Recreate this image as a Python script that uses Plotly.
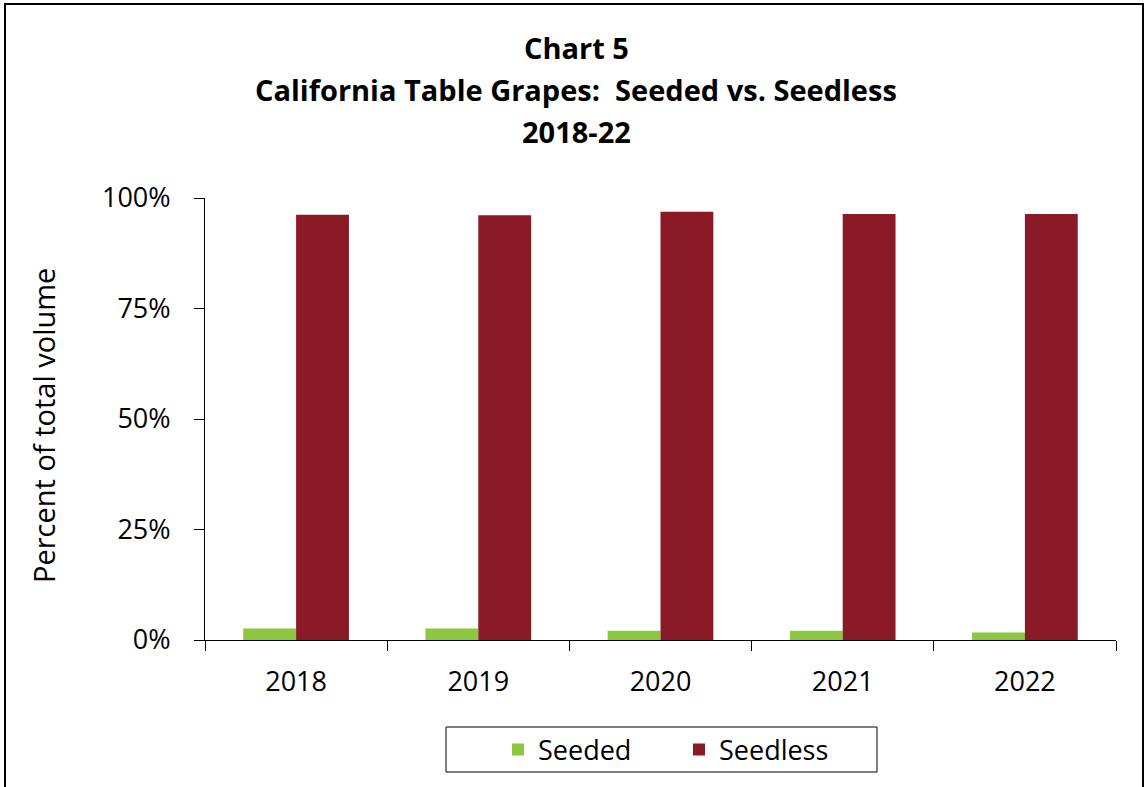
import plotly.graph_objects as go

years = ["2018", "2019", "2020", "2021", "2022"]
seeded = [2.6, 2.6, 2.1, 2.1, 1.7]
seedless = [96.2, 96.1, 96.9, 96.4, 96.4]
y_ticks = [0, 25, 50, 75, 100]
y_tick_labels = ["0%", "25%", "50%", "75%", "100%"]
title_lines = ["Chart 5", "California Table Grapes:\u00a0 Seeded vs. Seedless", "2018-22"]

W, H = 1147, 787
L, R, T, B = 205, 31, 198, 147
pw, ph = W - L - R, H - T - B

def px(x):
    return (x - L) / pw

def py(y):
    return (H - B - y) / ph

FONT = "'Open Sans', sans-serif"

fig = go.Figure()
fig.add_trace(go.Bar(x=years, y=seeded, name="Seeded", marker=dict(color="#8DC63F", line=dict(width=0))))
fig.add_trace(go.Bar(x=years, y=seedless, name="Seedless", marker=dict(color="#8B1A27", line=dict(width=0))))

annotations = []
for text, yc in zip(title_lines, [47, 90, 131]):
    annotations.append(dict(text="<b>" + text + "</b>", xref="paper", yref="paper",
                            x=px(576), y=py(yc), xanchor="center", yanchor="middle",
                            showarrow=False, font=dict(size=29, color="black", family=FONT)))
annotations.append(dict(text="Percent of total volume", xref="paper", yref="paper",
                        x=px(43), y=py(426), xanchor="center", yanchor="middle", textangle=-90,
                        showarrow=False, font=dict(size=29, color="black", family=FONT)))

fig.update_layout(
    width=W, height=H,
    margin=dict(l=L, r=R, t=T, b=B, autoexpand=False),
    paper_bgcolor="white", plot_bgcolor="white",
    font=dict(family=FONT, size=27, color="black"),
    barmode="group", bargap=0.42, bargroupgap=0,
    showlegend=True,
    legend=dict(orientation="h", x=px(498), y=py(750), xanchor="left", yanchor="middle",
                borderwidth=0, bgcolor="rgba(0,0,0,0)", font=dict(size=27, family=FONT),
                entrywidth=136, itemwidth=30, traceorder="normal"),
    annotations=annotations,
    xaxis=dict(showline=True, linecolor="black", linewidth=1, ticks="outside",
               ticklen=10, tickcolor="black", showgrid=False, tickson="boundaries",
               ticklabelstandoff=18, tickfont=dict(size=27)),
    yaxis=dict(range=[0, 100], tickvals=y_ticks, ticktext=y_tick_labels,
               showline=True, linecolor="black", linewidth=1, ticks="outside",
               ticklen=10, tickcolor="black", showgrid=False, zeroline=False,
               ticklabelstandoff=18, tickfont=dict(size=27)),
    shapes=[
        dict(type="rect", xref="paper", yref="paper",
             x0=px(5), x1=px(1143), y0=py(800), y1=py(4),
             line=dict(color="black", width=2), fillcolor="rgba(0,0,0,0)", layer="below"),
        dict(type="rect", xref="paper", yref="paper",
             x0=px(446), x1=px(877), y0=py(772), y1=py(727),
             line=dict(color="black", width=1), fillcolor="rgba(0,0,0,0)", layer="below"),
    ],
)

fig.write_html("out.html", config={"displayModeBar": False},
               post_script="document.body.style.margin='0';")
